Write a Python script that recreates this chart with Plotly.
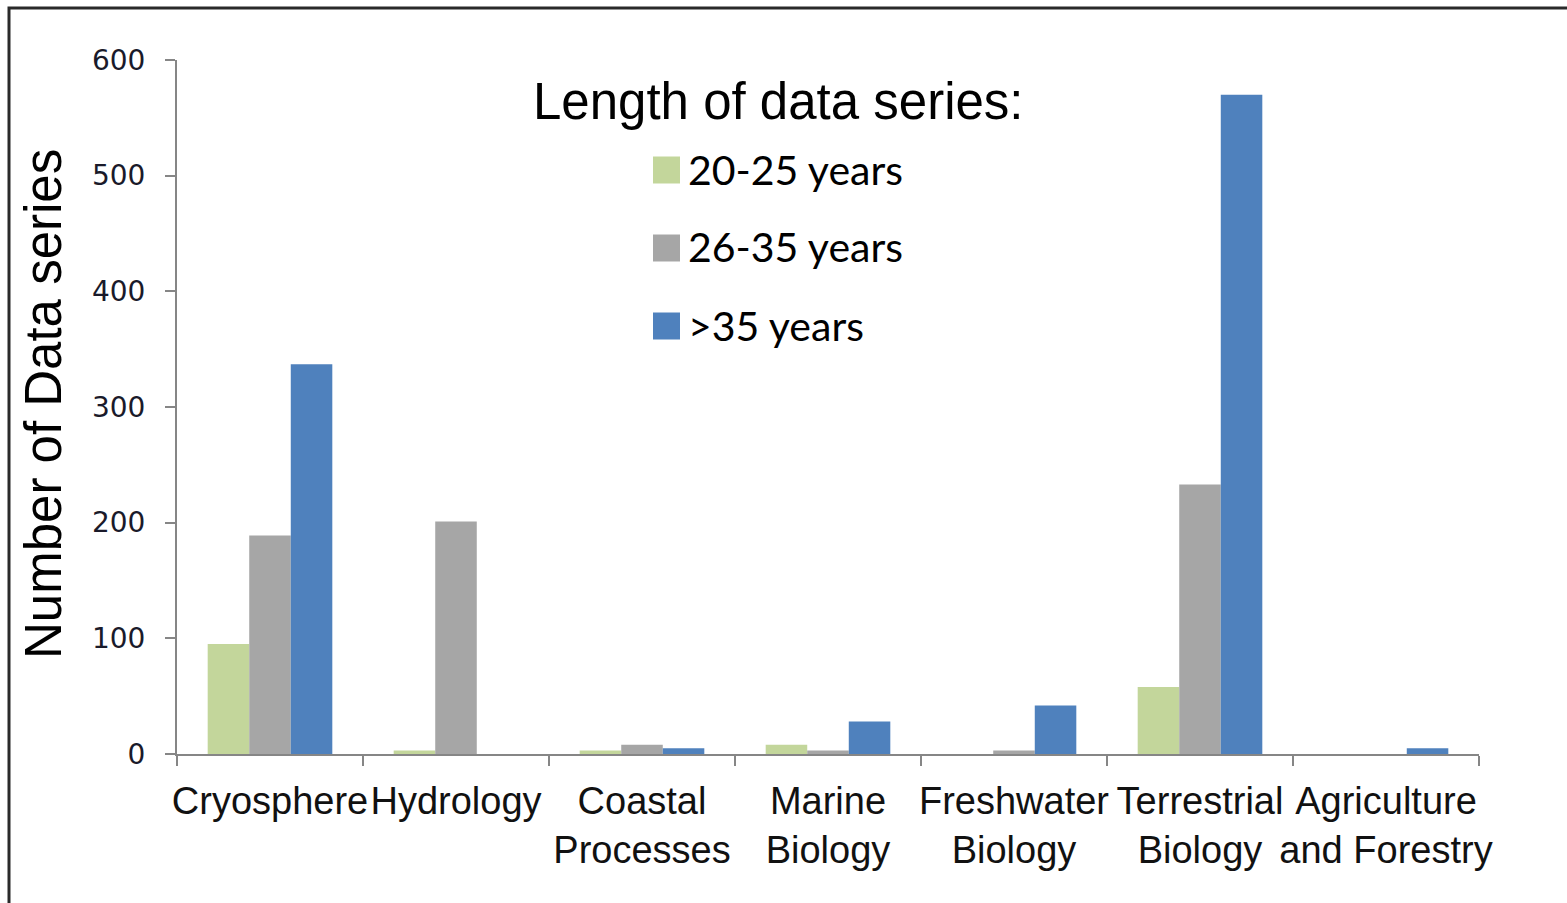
import plotly.graph_objects as go

categories = ["Cryosphere", "Hydrology", "Coastal Processes", "Marine Biology",
              "Freshwater Biology", "Terrestrial Biology", "Agriculture and Forestry"]
tick_labels = ["Cryosphere", "Hydrology", "Coastal<br>Processes", "Marine<br>Biology",
               "Freshwater<br>Biology", "Terrestrial<br>Biology", "Agriculture<br>and Forestry"]
series_names = ["20-25 years", "26-35 years", ">35 years"]
vals_20_25 = [95, 3, 3, 8, 0, 58, 0]
vals_26_35 = [189, 201, 8, 3, 3, 233, 0]
vals_gt35 = [337, 0, 5, 28, 42, 570, 5]
y_ticks = [0, 100, 200, 300, 400, 500, 600]
legend_title = "Length of data series:"
y_title = "Number of Data series"

colors = ["#C3D69B", "#A6A6A6", "#4F81BD"]

W, H = 1567, 903
L, R, T, B = 177, 1479, 60, 754  # plot area in pixels


def px(x):
    return (x - L) / (R - L)


def py(y):
    return (B - y) / (B - T)


fig = go.Figure()
for name, vals, col in zip(series_names, [vals_20_25, vals_26_35, vals_gt35], colors):
    fig.add_trace(go.Bar(x=categories, y=vals, name=name, marker_color=col,
                         marker_line_width=0, showlegend=False))

axis_col = "#868686"
fig.update_layout(
    width=W, height=H,
    margin=dict(l=L, r=W - R, t=T, b=H - B, pad=0),
    paper_bgcolor="white", plot_bgcolor="white",
    barmode="group", bargap=0.33, bargroupgap=0,
    xaxis=dict(
        type="category", tickmode="array", tickvals=categories, ticktext=tick_labels,
        tickangle=0, showgrid=False, showline=True, linecolor=axis_col, linewidth=2,
        ticks="outside", tickson="boundaries", ticklen=10, tickwidth=2, tickcolor=axis_col,
        tickfont=dict(family="Liberation Sans, Arial", size=38, color="#111111"),
        ticklabelstandoff=12, automargin=False,
    ),
    yaxis=dict(
        range=[0, 600], tickvals=y_ticks, showgrid=False, zeroline=False,
        showline=True, linecolor=axis_col, linewidth=2,
        ticks="outside", ticklen=10, tickwidth=2, tickcolor=axis_col,
        tickfont=dict(family="DejaVu Sans, Verdana", size=28, color="#1a1a2a"),
        ticklabelstandoff=14, automargin=False,
    ),
)

# y-axis title
fig.add_annotation(text=y_title, xref="paper", yref="paper", x=px(43), y=py(404),
                   textangle=-90, showarrow=False, xanchor="center", yanchor="middle",
                   font=dict(family="Liberation Sans, Arial", size=51, color="black"))

# manual legend
fig.add_annotation(text=legend_title, xref="paper", yref="paper", x=px(531), y=py(101),
                   showarrow=False, xanchor="left", yanchor="middle",
                   font=dict(family="Liberation Sans, Arial", size=51, color="black"))
item_centers = [170, 248, 326]
for name, col, cy in zip(series_names, colors, item_centers):
    fig.add_shape(type="rect", xref="paper", yref="paper",
                  x0=px(653), x1=px(680), y0=py(cy - 13.5), y1=py(cy + 13.5),
                  fillcolor=col, line=dict(width=0))
    fig.add_annotation(text=name, xref="paper", yref="paper", x=px(686), y=py(cy - 1),
                       showarrow=False, xanchor="left", yanchor="middle",
                       font=dict(family="Lato, Open Sans", size=41, color="black"))

# outer frame
fig.add_shape(type="rect", xref="paper", yref="paper",
              x0=px(9), x1=px(1620), y0=py(960), y1=py(8),
              line=dict(color="#2a2a2a", width=3), fillcolor="rgba(0,0,0,0)")

fig.write_html("out.html", config={"displayModeBar": False},
               post_script="document.body.style.margin='0';")
